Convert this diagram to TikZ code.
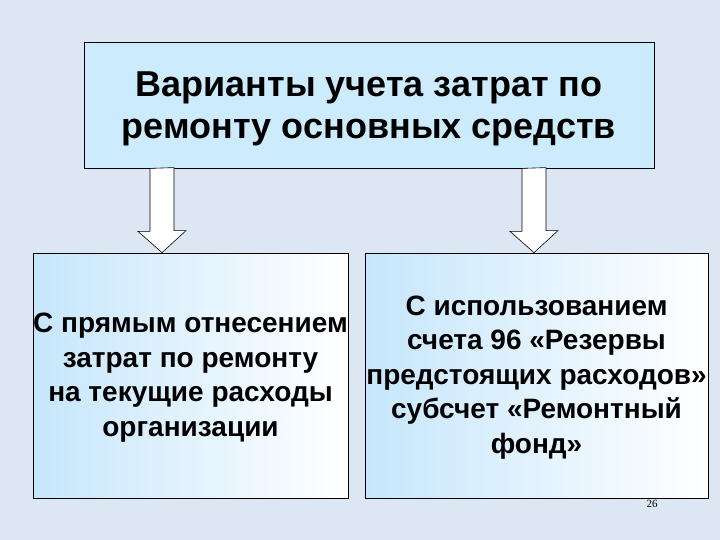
\documentclass[tikz,border=0pt]{standalone}
\usepackage{fontspec}
\setmainfont{Liberation Sans}
\newfontfamily\numfont{Liberation Serif}
\definecolor{bgblue}{HTML}{DDE7F3}
\definecolor{titleblue}{HTML}{CCECFD}
\definecolor{boxblue}{HTML}{C6E6FC}
\tikzset{
  titlebox/.style={draw=black,fill=titleblue,line width=0.8pt,minimum width=570pt,minimum height=126pt,inner sep=0pt},
  lowbox/.style={draw=black,line width=0.8pt,left color=boxblue,right color=white,minimum height=245pt,inner sep=0pt},
  boxtext/.style={align=center,inner sep=0pt,font=\bfseries\fontsize{28}{34.5}\selectfont},
  blockarr/.style={draw=black,fill=white,line width=0.6pt,line join=miter}
}
\begin{document}
\begin{tikzpicture}[x=1pt,y=-1pt]
\fill[bgblue] (0,0) rectangle (720,540);
\useasboundingbox (0,0) rectangle (720,540);
\node[titlebox] (title) at (369,105) {};
\node[align=center,inner sep=0pt,font=\bfseries\fontsize{36}{42}\selectfont] (titletxt) at ([yshift=-4pt]title.center) {Варианты учета затрат по\\ремонту основных средств};
\node[lowbox,minimum width=315pt] (direct) at (190.5,375.5) {};
\node[lowbox,minimum width=343pt] (reserve) at (536.5,375.5) {};
\node[boxtext] (directtxt) at ([yshift=-2pt]direct.center) {С прямым отнесением\\затрат по ремонту\\на текущие расходы\\организации};
\node[boxtext] (reservetxt) at ([yshift=-2pt]reserve.center) {С использованием\\счета 96 «Резервы\\предстоящих расходов»\\субсчет «Ремонтный\\фонд»};
% block arrows
\coordinate (l1) at (title.south -| 162,0);
\coordinate (l2) at (direct.north -| 162,0);
\coordinate (r1) at (title.south -| 534,0);
\coordinate (r2) at (reserve.north -| 534,0);
\draw[blockarr] (l1) ++(-12,0) -- ++(0,63) -- ++(-12,0) -- (l2) -- ++(24,-22) -- ++(-12,0) -- ++(0,-63) -- cycle;
\draw[blockarr] (r1) ++(-12,0) -- ++(0,63) -- ++(-12,0) -- (r2) -- ++(24,-22) -- ++(-12,0) -- ++(0,-63) -- cycle;
\node[font=\numfont\fontsize{11}{11}\selectfont] (pagenum) at (652,504) {26};
\end{tikzpicture}
\end{document}
